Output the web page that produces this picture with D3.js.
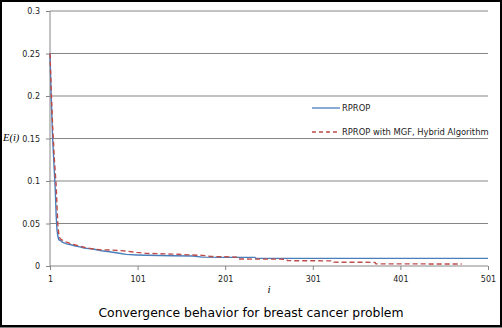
<!DOCTYPE html>
<html>
<head>
<meta charset="utf-8">
<script src="https://cdn.jsdelivr.net/npm/d3@7"></script>
<style>
  body { margin: 0; background: #fff; }
  svg { display: block; }
</style>
</head>
<body>
<svg id="chart" width="502" height="328"></svg>
<script>
// iterations / error values
var rpropIter = [1, 2, 3, 4, 5, 6, 7, 8, 9, 10, 11, 13, 15, 20, 25, 30, 35, 40, 50, 60, 69, 80, 88, 100, 111, 140, 164, 175, 200, 235, 236, 501];
var rpropErr  = [0.25, 0.21, 0.18, 0.15, 0.13, 0.11, 0.09, 0.06, 0.042, 0.035, 0.031, 0.030, 0.028, 0.026, 0.025, 0.0235, 0.0225, 0.021, 0.020, 0.018, 0.0168, 0.015, 0.0137, 0.013, 0.0126, 0.012, 0.0118, 0.0105, 0.0102, 0.0102, 0.009, 0.009];

var hybridIter = [1, 2, 3, 4, 5, 6, 7, 8, 9, 10, 11, 12, 14, 17, 20, 25, 30, 40, 50, 60, 70, 88, 100, 111, 140, 164, 175, 185, 214, 215, 271, 272, 324, 325, 372, 373, 471];
var hybridErr  = [0.25, 0.22, 0.19, 0.165, 0.145, 0.125, 0.11, 0.095, 0.07, 0.048, 0.038, 0.033, 0.031, 0.029, 0.028, 0.026, 0.0247, 0.022, 0.020, 0.019, 0.0188, 0.0176, 0.016, 0.0149, 0.014, 0.0129, 0.0125, 0.0112, 0.0105, 0.0082, 0.008, 0.0063, 0.006, 0.0045, 0.0043, 0.0025, 0.0024];

var seriesNames = ["RPROP", "RPROP with MGF, Hybrid Algorithm"];
var yTicks = [0, 0.05, 0.1, 0.15, 0.2, 0.25, 0.3];
var xTicks = [1, 101, 201, 301, 401, 501];

(function() {
var svg = d3.select("#chart");
var pLeft = 50, pRight = 488, pTop = 11, pBottom = 266;

var x = d3.scaleLinear().domain([1, 501]).range([pLeft, pRight]);
var y = d3.scaleLinear().domain([0, 0.3]).range([pBottom, pTop]);

// outer border
svg.append("rect")
    .attr("x", 1).attr("y", 1).attr("width", 500).attr("height", 325)
    .attr("fill", "#fff").attr("stroke", "#000").attr("stroke-width", 2);
svg.append("line").attr("x1", 0).attr("x2", 502).attr("y1", 327).attr("y2", 327)
    .attr("stroke", "#000");

var labelFont = "'DejaVu Sans', Verdana, sans-serif";

// gridlines
svg.append("g").selectAll("line")
    .data(yTicks.filter(function(d) { return d > 0; }))
    .enter().append("line")
    .attr("x1", pLeft).attr("x2", pRight)
    .attr("y1", function(d) { return y(d); }).attr("y2", function(d) { return y(d); })
    .attr("stroke", "#868686");

// y axis
var yAxis = svg.append("g")
    .attr("transform", "translate(" + pLeft + ",0)")
    .call(d3.axisLeft(y).tickValues(yTicks).tickSize(4).tickPadding(6)
        .tickFormat(function(d) { return String(+d.toFixed(2)); }));
yAxis.select(".domain").attr("stroke", "#868686").attr("d", "M0," + pTop + "V" + pBottom);
yAxis.selectAll(".tick line").attr("stroke", "#868686");
yAxis.selectAll(".tick text").attr("fill", "#222").style("font", "8px " + labelFont);

// x axis
var xAxis = svg.append("g")
    .attr("transform", "translate(0," + pBottom + ")")
    .call(d3.axisBottom(x).tickValues(xTicks).tickSize(4).tickPadding(6).tickFormat(d3.format("d")));
xAxis.select(".domain").attr("stroke", "#868686").attr("d", "M" + pLeft + ",0H" + pRight);
xAxis.selectAll(".tick line").attr("stroke", "#868686");
xAxis.selectAll(".tick text").attr("fill", "#222").style("font", "8px " + labelFont);

// axis titles
svg.append("text")
    .attr("x", (pLeft + pRight) / 2).attr("y", 293)
    .attr("text-anchor", "middle")
    .style("font", "italic 11px 'Liberation Serif', 'Times New Roman', serif")
    .text("i");
svg.append("text")
    .attr("x", 3).attr("y", 141)
    .style("font", "italic 10.5px 'Liberation Serif', 'Times New Roman', serif")
    .text("E(i)");

// lines
var line = d3.line()
    .x(function(d) { return x(d[0]); })
    .y(function(d) { return y(d[1]); });

var rprop = d3.zip(rpropIter, rpropErr);
var hybrid = d3.zip(hybridIter, hybridErr);

svg.append("path").datum(rprop)
    .attr("d", line).attr("fill", "none")
    .attr("stroke", "#4a7ebb").attr("stroke-width", 1.4);
svg.append("path").datum(hybrid)
    .attr("d", line).attr("fill", "none")
    .attr("stroke", "#be4b48").attr("stroke-width", 1.4)
    .attr("stroke-dasharray", "5,3");

// legend
var legend = svg.append("g");
var legendRows = [
    { name: seriesNames[0], color: "#4a7ebb", dash: null, y: 108 },
    { name: seriesNames[1], color: "#be4b48", dash: "4,3", y: 132 }
];
legendRows.forEach(function(r) {
    legend.append("line")
        .attr("x1", 312).attr("x2", 340).attr("y1", r.y).attr("y2", r.y)
        .attr("stroke", r.color).attr("stroke-width", 1.3)
        .attr("stroke-dasharray", r.dash);
    legend.append("text")
        .attr("x", 342).attr("y", r.y + 3)
        .attr("fill", "#222")
        .style("font", "8.4px " + labelFont)
        .text(r.name);
});

// chart title
svg.append("text")
    .attr("x", 251).attr("y", 317)
    .attr("text-anchor", "middle")
    .style("font", "12.4px " + labelFont)
    .text("Convergence behavior for breast cancer problem");
})();
</script>
</body>
</html>
